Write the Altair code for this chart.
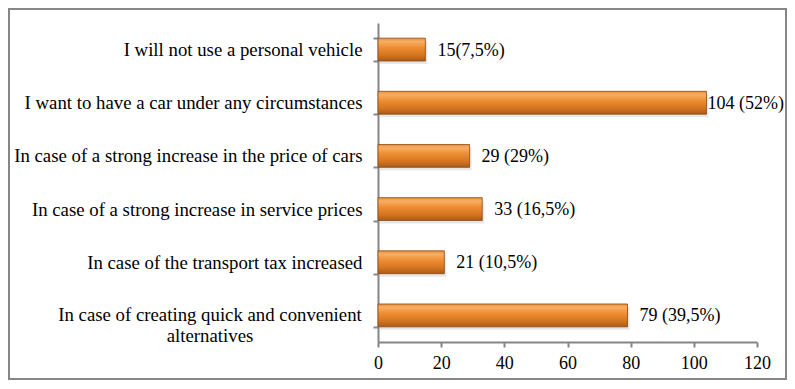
import altair as alt
import pandas as pd

categories = [
    "I will not use a personal vehicle",
    "I want to have a car under any circumstances",
    "In case of a strong increase in the price of cars",
    "In case of a strong increase in service prices",
    "In case of the transport tax  increased",
    "In case of creating quick and convenient\nalternatives",
]
counts = [15, 104, 29, 33, 21, 79]
value_labels = ["15(7,5%)", "104 (52%)", "29 (29%)", "33 (16,5%)", "21 (10,5%)", "79 (39,5%)"]
x_ticks = [0, 20, 40, 60, 80, 100, 120]

df = pd.DataFrame({"cat": categories, "n": counts, "lab": value_labels})

FONT = "Liberation Serif"
GRAY = "#868686"
CAT_SIZE = 18.8

yscale = alt.Scale(domain=categories, paddingInner=0.57, paddingOuter=0.285)
xscale = alt.Scale(domain=[0, 120], nice=False)

y_enc = alt.Y(
    "cat:N",
    sort=categories,
    scale=yscale,
    axis=alt.Axis(
        title=None,
        tickBand="extent",
        labelExpr="indexof(datum.label, 'alternatives') >= 0 ? '' : datum.label",
        labelFont=FONT,
        labelFontSize=CAT_SIZE,
        labelColor="black",
        labelPadding=11,
        labelLimit=500,
        domainColor=GRAY,
        domainWidth=2,
        tickColor=GRAY,
        tickWidth=2,
        tickSize=5,
    ),
)

gradient = alt.Gradient(
    gradient="linear",
    x1=0, x2=0, y1=0, y2=1,
    stops=[
        alt.GradientStop(color="#E8903C", offset=0),
        alt.GradientStop(color="#F8AE62", offset=0.15),
        alt.GradientStop(color="#EE8C30", offset=0.42),
        alt.GradientStop(color="#D47420", offset=0.75),
        alt.GradientStop(color="#A85A18", offset=1),
    ],
)

shadow = alt.Chart(df).mark_bar(
    color="#BBBBBB", opacity=0.35, yOffset=3, xOffset=2
).encode(
    y=alt.Y("cat:N", sort=categories, scale=yscale),
    x=alt.X("n:Q", scale=xscale),
)

bars = alt.Chart(df).mark_bar(
    fill=gradient, stroke="#8A4A12", strokeWidth=0.8
).encode(
    y=y_enc,
    x=alt.X(
        "n:Q",
        scale=xscale,
        axis=alt.Axis(
            title=None,
            values=x_ticks,
            grid=False,
            labelFont=FONT,
            labelFontSize=18,
            labelColor="black",
            labelPadding=7,
            labelFlush=False,
            domainColor=GRAY,
            domainWidth=2,
            tickColor=GRAY,
            tickWidth=2,
            tickSize=5,
        ),
    ),
)

values = alt.Chart(df).transform_calculate(
    pos="min(datum.n + 3.8, 104.3)"
).mark_text(
    align="left", baseline="middle", font=FONT, fontSize=18, color="black", dy=1
).encode(
    y=alt.Y("cat:N", sort=categories, scale=yscale),
    x=alt.X("pos:Q", scale=xscale),
    text="lab:N",
)

two_line = alt.Chart(df).transform_filter(
    "indexof(datum.cat, 'alternatives') >= 0"
).mark_text(
    align="center", baseline="middle", font=FONT, fontSize=CAT_SIZE, color="black",
    lineBreak="\n", lineHeight=21,
).encode(
    y=alt.Y("cat:N", sort=categories, scale=yscale),
    x=alt.value(-168),
    text="cat:N",
)

border = alt.Chart(pd.DataFrame({"a": [0]})).mark_rect(
    fillOpacity=0, stroke=GRAY, strokeWidth=2
).encode(
    x=alt.value(-369), x2=alt.value(408), y=alt.value(-14), y2=alt.value(356)
)

chart = alt.layer(border, shadow, bars, values, two_line).properties(
    width=379,
    height=319,
    autosize=alt.AutoSizeParams(type="none"),
    padding={"left": 370, "right": 30, "top": 15, "bottom": 38},
).configure_view(strokeWidth=0)

chart.save("out.html", embed_options={"renderer": "svg", "actions": False})
